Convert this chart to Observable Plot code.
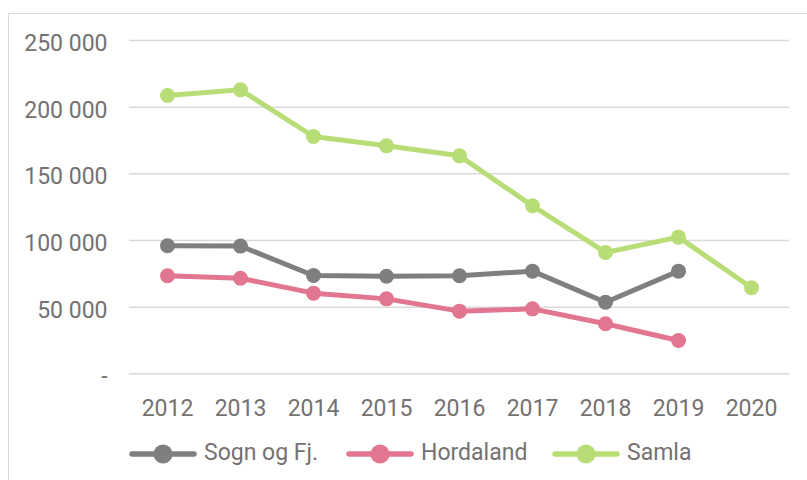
<!DOCTYPE html>
<html>
<head>
<meta charset="utf-8">
<script src="https://cdn.jsdelivr.net/npm/d3@7"></script>
<script src="https://cdn.jsdelivr.net/npm/@observablehq/plot@0.6"></script>
<style>
  html, body { margin: 0; padding: 0; background: #fff; overflow: hidden; }
  body { width: 807px; height: 480px; position: relative; font-family: Roboto, "Noto Sans", sans-serif; }
  #frame { position: absolute; left: 8px; top: 13px; width: 900px; height: 600px; border: 1.5px solid #d9d9d9; box-sizing: border-box; }
  #chart { position: absolute; left: 0; top: 0; }
  #legend { position: absolute; left: 0; top: 439px; width: 807px; height: 28px; color: #767171; font-size: 23px; }
  .sw { position: absolute; top: 4px; }
  .lab { position: absolute; top: 0; line-height: 28px; white-space: nowrap; }
</style>
</head>
<body>
<div id="frame"></div>
<div id="chart"></div>
<div id="legend"></div>
<script>
const years = [2012, 2013, 2014, 2015, 2016, 2017, 2018, 2019, 2020];
const seriesNames = ["Sogn og Fj.", "Hordaland", "Samla"];
const sognValues = [96000, 95800, 73700, 73200, 73500, 77000, 53700, 77000, null];
const hordalandValues = [73500, 71700, 60500, 56200, 47000, 48700, 37500, 25000, null];
const samlaValues = [208700, 213000, 178000, 171000, 163500, 126000, 91000, 102500, 64500];
const yTicks = [0, 50000, 100000, 150000, 200000, 250000];
const colors = ["#7f7f7f", "#e2758f", "#b8dd76"];

const allValues = [sognValues, hordalandValues, samlaValues];
const rows = [];
seriesNames.forEach((name, i) => {
  years.forEach((yr, j) => {
    const v = allValues[i][j];
    if (v != null) rows.push({series: name, year: yr, value: v});
  });
});

const fmt = d => d === 0 ? "-" : d3.format(",")(d).replace(/,/g, " ");

const plot = Plot.plot({
  width: 807,
  height: 430,
  marginLeft: 129,
  marginRight: 18,
  marginTop: 40,
  marginBottom: 56.7,
  style: {fontFamily: "Roboto, 'Noto Sans', sans-serif", fontSize: "23px", color: "#767171", background: "transparent"},
  x: {type: "point", domain: years, padding: 0.5, label: null},
  y: {domain: [0, 250000], label: null},
  color: {domain: seriesNames, range: colors},
  marks: [
    Plot.ruleY(yTicks, {stroke: "#d9d9d9", strokeWidth: 1.5}),
    Plot.axisY({ticks: yTicks, tickFormat: fmt, tickSize: 0, tickPadding: 22, dy: 3, fontSize: 23, fill: "#767171"}),
    Plot.axisX({ticks: years, tickFormat: d => String(d), tickSize: 0, tickPadding: 26, fontSize: 23, fill: "#767171"}),
    Plot.line(rows, {x: "year", y: "value", z: "series", stroke: "series", strokeWidth: 5, strokeLinejoin: "round", strokeLinecap: "round"}),
    Plot.dot(rows, {x: "year", y: "value", fill: "series", r: 7.5})
  ]
});
document.getElementById("chart").appendChild(plot);

const legend = document.getElementById("legend");
const swatchLeft = [129, 346, 552];
seriesNames.forEach((name, i) => {
  const sw = document.createElement("div");
  sw.className = "sw";
  sw.style.left = swatchLeft[i] + "px";
  sw.innerHTML = `<svg width="68" height="20"><line x1="3" y1="10" x2="65" y2="10" stroke="${colors[i]}" stroke-width="5.5" stroke-linecap="round"/><circle cx="34" cy="10" r="9.5" fill="${colors[i]}"/></svg>`;
  legend.appendChild(sw);
  const lab = document.createElement("div");
  lab.className = "lab";
  lab.style.left = (swatchLeft[i] + 75) + "px";
  lab.textContent = name;
  legend.appendChild(lab);
});
</script>
</body>
</html>
